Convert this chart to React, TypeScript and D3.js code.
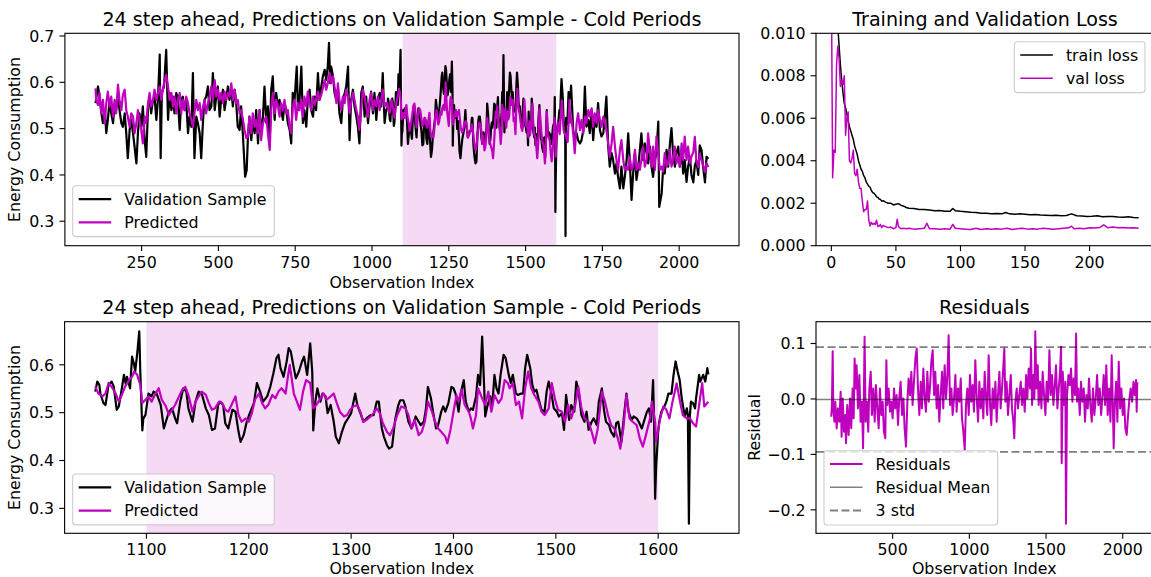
import React from "react";
import * as d3 from "d3";

type Pt = [number, number];

// ---------- Validation sample (actual) : observation index, energy ----------
const actualHead: Pt[] = [
  [100,0.555],[108,0.591],[113,0.569],[119,0.533],[124,0.512],[130,0.540],[135,0.490],[140,0.519],[146,0.562],[151,0.533],
  [157,0.512],[162,0.551],[167,0.540],[173,0.573],[178,0.540],[184,0.512],[189,0.504],[195,0.533],[200,0.490],[205,0.436],
  [211,0.497],[216,0.519],[222,0.490],[227,0.461],[233,0.425],[238,0.490],[243,0.533],[249,0.504],[254,0.548],[260,0.475],
  [265,0.439],[271,0.548],[276,0.569],[281,0.533],[287,0.562],[292,0.569],[298,0.519],[303,0.562],[309,0.660],[312,0.436],
  [316,0.577],[323,0.591],[330,0.670],[336,0.519],[341,0.577],[347,0.540],[352,0.569],[357,0.533],[363,0.577],[368,0.562],
  [374,0.497],[379,0.562],[384,0.569],[390,0.540],[395,0.562],[401,0.490],[406,0.526],[412,0.504],[417,0.620],[422,0.436],
  [428,0.526],[433,0.512],[439,0.490],[444,0.436],[450,0.519],[455,0.562],[460,0.569],[466,0.591],[471,0.540],[477,0.548],
  [482,0.620],[488,0.540],[493,0.569],[498,0.591],[504,0.526],[509,0.562],[515,0.584],[520,0.540],[525,0.562],[531,0.591],
  [536,0.562],[542,0.584],[547,0.548],[553,0.584],[558,0.555],[563,0.504],[569,0.497],[574,0.548],[580,0.483],[587,0.396],
  [592,0.410],[596,0.480],[601,0.526],[607,0.475],[612,0.519],[618,0.490],[623,0.540],[629,0.468],[634,0.540],[639,0.490],
  [645,0.526],[650,0.591],[656,0.512],[661,0.548],[667,0.475],[672,0.584],[677,0.613],[683,0.519],[688,0.577],[694,0.548],
  [699,0.562],[704,0.540],[710,0.519],[715,0.555],[721,0.540],[726,0.512],[732,0.497],[737,0.468],[742,0.577],[748,0.562],
  [755,0.634],[759,0.540],[764,0.562],[770,0.634],[775,0.512],[780,0.540],[786,0.504],[791,0.562],[797,0.584],[802,0.540],
  [808,0.526],[813,0.569],[818,0.540],[824,0.620],[829,0.562],[835,0.591],[840,0.613],[846,0.627],[851,0.605],[856,0.634],
  [860,0.685],[864,0.598],[867,0.634],[873,0.613],[878,0.577],[884,0.562],[889,0.584],[894,0.533],[900,0.512],[905,0.562],
  [911,0.577],[916,0.591],[922,0.634],[927,0.475],[932,0.562],[938,0.584],[943,0.548],[949,0.526],[954,0.504],[959,0.468],
  [965,0.577],[970,0.591],[976,0.526],[981,0.569],[987,0.512],[992,0.548],[997,0.580],[1003,0.533],[1008,0.577],[1014,0.519],
  [1019,0.562],[1025,0.577],[1030,0.548],[1035,0.620],[1041,0.512],[1046,0.540],
];

const actualZoom: Pt[] = [
  [1050,0.544],[1052,0.565],[1054,0.558],[1055,0.540],[1058,0.520],[1060,0.516],[1063,0.558],[1066,0.565],[1068,0.555],[1071,0.506],
  [1073,0.513],[1076,0.551],[1078,0.579],[1080,0.558],[1081,0.575],[1084,0.551],[1086,0.617],[1088,0.600],[1089,0.586],[1091,0.624],
  [1093,0.670],[1094,0.586],[1096,0.463],[1097,0.488],[1099,0.495],[1102,0.540],[1105,0.534],[1107,0.544],[1110,0.540],[1114,0.516],
  [1117,0.467],[1119,0.481],[1122,0.502],[1125,0.509],[1128,0.488],[1130,0.478],[1133,0.523],[1136,0.551],[1139,0.544],[1141,0.509],
  [1145,0.481],[1148,0.523],[1151,0.544],[1154,0.540],[1158,0.509],[1161,0.495],[1164,0.464],[1167,0.467],[1170,0.516],[1172,0.523],
  [1175,0.516],[1177,0.478],[1180,0.467],[1184,0.506],[1187,0.502],[1190,0.460],[1192,0.439],[1195,0.453],[1198,0.481],[1201,0.499],
  [1205,0.520],[1208,0.562],[1211,0.544],[1214,0.523],[1218,0.534],[1221,0.554],[1224,0.582],[1227,0.614],[1229,0.621],[1231,0.593],
  [1234,0.575],[1237,0.607],[1239,0.635],[1241,0.628],[1244,0.593],[1246,0.572],[1249,0.586],[1252,0.607],[1254,0.617],[1257,0.579],
  [1258,0.600],[1260,0.645],[1262,0.586],[1263,0.463],[1265,0.523],[1267,0.551],[1270,0.523],[1272,0.540],[1275,0.534],[1277,0.499],
  [1280,0.516],[1283,0.481],[1285,0.450],[1288,0.436],[1291,0.460],[1294,0.478],[1297,0.488],[1300,0.499],[1304,0.540],[1306,0.516],
  [1309,0.499],[1312,0.481],[1315,0.488],[1319,0.495],[1322,0.495],[1325,0.523],[1327,0.523],[1330,0.467],[1332,0.450],[1335,0.432],
  [1337,0.425],[1340,0.429],[1343,0.485],[1346,0.515],[1348,0.526],[1351,0.526],[1353,0.513],[1356,0.481],[1359,0.467],[1361,0.478],
  [1363,0.492],[1366,0.481],[1368,0.474],[1371,0.481],[1373,0.506],[1375,0.554],[1378,0.530],[1380,0.502],[1383,0.467],[1385,0.474],
  [1388,0.502],[1390,0.513],[1392,0.502],[1395,0.520],[1398,0.554],[1400,0.551],[1402,0.540],[1405,0.502],[1407,0.540],[1410,0.568],
  [1412,0.523],[1415,0.502],[1417,0.509],[1419,0.506],[1422,0.534],[1424,0.579],[1426,0.558],[1428,0.659],[1430,0.551],[1431,0.492],
  [1433,0.513],[1436,0.534],[1438,0.516],[1440,0.579],[1442,0.551],[1444,0.540],[1446,0.579],[1449,0.621],[1451,0.614],[1454,0.579],
  [1456,0.562],[1458,0.579],[1461,0.540],[1463,0.537],[1466,0.540],[1468,0.540],[1470,0.593],[1472,0.621],[1475,0.593],[1477,0.558],
  [1479,0.544],[1481,0.548],[1483,0.530],[1486,0.506],[1489,0.502],[1491,0.544],[1493,0.565],[1496,0.537],[1498,0.509],[1501,0.502],
  [1503,0.492],[1506,0.499],[1508,0.464],[1510,0.537],[1513,0.485],[1515,0.516],[1518,0.502],[1520,0.565],[1522,0.548],[1525,0.495],
  [1528,0.481],[1530,0.502],[1532,0.464],[1535,0.481],[1537,0.488],[1540,0.474],[1542,0.523],[1545,0.551],[1547,0.506],[1549,0.481],
  [1552,0.474],[1554,0.460],[1557,0.450],[1559,0.478],[1561,0.481],[1564,0.439],[1567,0.502],[1569,0.540],[1571,0.502],[1574,0.485],
  [1576,0.492],[1579,0.488],[1581,0.481],[1584,0.467],[1586,0.481],[1589,0.502],[1591,0.509],[1593,0.481],[1595,0.568],[1596,0.481],
  [1597,0.320],[1598,0.387],[1600,0.460],[1601,0.481],[1603,0.502],[1606,0.513],[1608,0.523],[1610,0.540],[1613,0.540],[1615,0.579],
  [1617,0.607],[1619,0.586],[1621,0.568],[1623,0.530],[1626,0.492],[1628,0.509],[1629,0.495],[1630,0.268],[1631,0.495],[1632,0.523],
  [1634,0.520],[1636,0.509],[1637,0.530],[1640,0.579],[1641,0.565],[1644,0.579],[1646,0.565],[1648,0.593],[1649,0.580],
];

const actualTail: Pt[] = [
  [1655,0.497],[1660,0.475],[1666,0.490],[1671,0.475],[1677,0.468],[1682,0.475],[1688,0.497],[1693,0.591],[1698,0.504],[1704,0.519],
  [1709,0.490],[1715,0.540],[1720,0.475],[1725,0.519],[1731,0.504],[1736,0.555],[1742,0.497],[1747,0.483],[1753,0.490],[1758,0.526],
  [1763,0.569],[1769,0.461],[1774,0.418],[1780,0.447],[1785,0.432],[1791,0.403],[1796,0.425],[1801,0.396],[1807,0.371],[1812,0.418],
  [1818,0.371],[1823,0.396],[1829,0.432],[1834,0.490],[1839,0.432],[1845,0.346],[1850,0.403],[1856,0.447],[1861,0.389],[1867,0.418],
  [1872,0.454],[1877,0.490],[1883,0.432],[1888,0.468],[1894,0.447],[1899,0.425],[1905,0.461],[1910,0.418],[1915,0.396],[1921,0.432],
  [1926,0.447],[1932,0.515],[1935,0.331],[1943,0.360],[1948,0.418],[1953,0.403],[1959,0.454],[1964,0.418],[1970,0.468],[1975,0.501],
  [1980,0.447],[1986,0.418],[1991,0.447],[1997,0.461],[2002,0.418],[2008,0.454],[2013,0.403],[2018,0.432],[2024,0.385],[2029,0.418],
  [2035,0.439],[2040,0.400],[2046,0.384],[2051,0.420],[2056,0.431],[2062,0.400],[2067,0.464],[2073,0.453],[2078,0.417],[2084,0.384],
  [2089,0.439],[2095,0.435],
];

// ---------- Predicted ----------
const predictedHead: Pt[] = [
  [100,0.587],[102,0.562],[108,0.551],[113,0.577],[119,0.533],[124,0.562],[130,0.512],[135,0.555],[140,0.580],[146,0.548],
  [151,0.569],[157,0.526],[162,0.562],[167,0.533],[173,0.595],[178,0.562],[184,0.540],[189,0.573],[195,0.584],[200,0.540],
  [205,0.526],[211,0.504],[216,0.533],[222,0.526],[227,0.490],[233,0.512],[238,0.540],[243,0.519],[249,0.497],[254,0.468],
  [260,0.526],[265,0.512],[271,0.555],[276,0.577],[281,0.548],[287,0.562],[292,0.584],[298,0.562],[303,0.577],[309,0.591],
  [314,0.562],[319,0.584],[325,0.605],[330,0.616],[336,0.591],[341,0.562],[347,0.577],[352,0.548],[357,0.569],[363,0.533],
  [368,0.562],[374,0.577],[379,0.533],[384,0.562],[390,0.540],[395,0.569],[401,0.555],[406,0.533],[412,0.519],[417,0.504],
  [422,0.533],[428,0.562],[433,0.540],[439,0.555],[444,0.519],[450,0.548],[455,0.562],[460,0.533],[466,0.555],[471,0.569],
  [477,0.591],[482,0.562],[488,0.605],[493,0.569],[498,0.584],[504,0.562],[509,0.577],[515,0.555],[520,0.580],[525,0.562],
  [531,0.577],[536,0.569],[542,0.598],[547,0.562],[553,0.584],[558,0.555],[563,0.562],[569,0.533],[574,0.540],[580,0.519],
  [585,0.497],[591,0.480],[596,0.483],[601,0.526],[607,0.490],[612,0.533],[618,0.504],[623,0.519],[629,0.490],[634,0.540],
  [639,0.475],[645,0.512],[650,0.519],[656,0.526],[661,0.490],[667,0.454],[672,0.540],[677,0.577],[683,0.533],[688,0.562],
  [694,0.548],[699,0.526],[704,0.555],[710,0.540],[715,0.562],[721,0.533],[726,0.540],[732,0.504],[737,0.490],[742,0.548],
  [748,0.562],[753,0.519],[759,0.555],[764,0.540],[770,0.562],[775,0.526],[780,0.569],[786,0.548],[791,0.580],[797,0.555],
  [802,0.540],[808,0.569],[813,0.551],[818,0.562],[824,0.580],[829,0.562],[835,0.573],[840,0.587],[846,0.605],[851,0.584],
  [856,0.598],[862,0.620],[867,0.598],[873,0.613],[878,0.591],[884,0.555],[889,0.598],[894,0.562],[900,0.540],[905,0.569],
  [911,0.555],[916,0.584],[922,0.569],[927,0.533],[932,0.555],[938,0.577],[943,0.562],[949,0.540],[954,0.526],[959,0.497],
  [965,0.540],[970,0.584],[976,0.569],[981,0.548],[987,0.526],[992,0.562],[997,0.577],[1003,0.540],[1008,0.562],[1014,0.548],
  [1019,0.569],[1025,0.540],[1030,0.562],[1035,0.584],[1041,0.548],[1046,0.555],
];

const predictedZoom: Pt[] = [
  [1050,0.555],[1053,0.540],[1057,0.534],[1060,0.540],[1063,0.562],[1066,0.554],[1070,0.540],[1073,0.523],[1076,0.537],[1079,0.554],
  [1083,0.568],[1086,0.575],[1088,0.586],[1091,0.579],[1094,0.558],[1096,0.520],[1099,0.527],[1102,0.534],[1105,0.523],[1109,0.540],
  [1112,0.551],[1115,0.527],[1119,0.513],[1122,0.495],[1125,0.506],[1128,0.516],[1131,0.530],[1135,0.548],[1138,0.554],[1141,0.537],
  [1145,0.502],[1148,0.523],[1151,0.534],[1154,0.544],[1158,0.537],[1161,0.520],[1164,0.506],[1167,0.509],[1171,0.523],[1174,0.520],
  [1177,0.506],[1180,0.502],[1184,0.520],[1187,0.534],[1190,0.495],[1193,0.481],[1197,0.488],[1200,0.481],[1203,0.499],[1206,0.527],
  [1210,0.540],[1213,0.520],[1216,0.509],[1219,0.516],[1223,0.537],[1226,0.530],[1229,0.544],[1232,0.551],[1236,0.540],[1238,0.572],
  [1240,0.600],[1244,0.540],[1247,0.523],[1250,0.506],[1253,0.544],[1256,0.568],[1260,0.562],[1263,0.509],[1266,0.516],[1270,0.530],
  [1273,0.540],[1276,0.527],[1280,0.534],[1283,0.540],[1286,0.520],[1289,0.502],[1293,0.492],[1296,0.495],[1299,0.506],[1302,0.513],
  [1306,0.516],[1309,0.502],[1312,0.481],[1315,0.485],[1319,0.492],[1322,0.499],[1325,0.509],[1328,0.499],[1331,0.478],[1335,0.460],
  [1338,0.453],[1341,0.467],[1345,0.495],[1349,0.513],[1353,0.509],[1356,0.495],[1359,0.467],[1362,0.485],[1366,0.453],[1369,0.460],
  [1372,0.481],[1375,0.523],[1379,0.502],[1382,0.481],[1385,0.467],[1388,0.460],[1392,0.450],[1394,0.436],[1397,0.464],[1400,0.502],
  [1403,0.537],[1405,0.523],[1408,0.548],[1411,0.516],[1415,0.502],[1417,0.488],[1419,0.467],[1422,0.495],[1424,0.551],[1428,0.530],
  [1431,0.516],[1434,0.544],[1437,0.502],[1440,0.537],[1444,0.520],[1447,0.530],[1450,0.568],[1453,0.562],[1455,0.551],[1458,0.562],
  [1461,0.516],[1464,0.523],[1467,0.488],[1470,0.551],[1473,0.586],[1476,0.551],[1479,0.537],[1483,0.523],[1486,0.502],[1489,0.495],
  [1493,0.509],[1496,0.562],[1499,0.530],[1502,0.506],[1506,0.502],[1509,0.481],[1512,0.516],[1515,0.488],[1519,0.516],[1522,0.554],
  [1525,0.509],[1528,0.488],[1532,0.481],[1535,0.460],[1538,0.436],[1541,0.467],[1545,0.544],[1548,0.523],[1551,0.495],[1554,0.474],
  [1558,0.464],[1561,0.443],[1563,0.425],[1566,0.467],[1569,0.537],[1572,0.488],[1575,0.481],[1579,0.474],[1582,0.446],[1585,0.429],
  [1588,0.453],[1592,0.488],[1594,0.523],[1597,0.481],[1598,0.439],[1602,0.488],[1605,0.513],[1608,0.506],[1611,0.488],[1614,0.523],
  [1618,0.561],[1621,0.527],[1624,0.495],[1628,0.488],[1631,0.488],[1634,0.478],[1637,0.471],[1640,0.516],[1643,0.562],[1645,0.513],
  [1649,0.523],
];

const predictedTail: Pt[] = [
  [1655,0.490],[1660,0.447],[1666,0.512],[1671,0.533],[1677,0.497],[1682,0.519],[1688,0.490],[1693,0.526],[1698,0.512],[1704,0.540],
  [1709,0.526],[1715,0.544],[1720,0.504],[1725,0.533],[1731,0.512],[1736,0.540],[1742,0.519],[1747,0.504],[1753,0.526],[1758,0.512],
  [1763,0.497],[1769,0.468],[1774,0.439],[1780,0.468],[1785,0.504],[1791,0.461],[1796,0.432],[1801,0.411],[1807,0.454],[1812,0.475],
  [1818,0.432],[1823,0.411],[1829,0.418],[1834,0.411],[1839,0.439],[1845,0.411],[1850,0.418],[1856,0.454],[1861,0.411],[1867,0.425],
  [1872,0.411],[1877,0.432],[1883,0.461],[1888,0.418],[1894,0.432],[1899,0.490],[1905,0.447],[1910,0.418],[1915,0.461],[1921,0.411],
  [1926,0.483],[1932,0.447],[1937,0.411],[1943,0.418],[1948,0.407],[1953,0.447],[1959,0.418],[1964,0.425],[1970,0.454],[1975,0.418],
  [1980,0.432],[1986,0.461],[1991,0.425],[1997,0.439],[2002,0.418],[2008,0.468],[2013,0.432],[2018,0.483],[2024,0.432],[2029,0.461],
  [2035,0.425],[2040,0.440],[2046,0.449],[2051,0.482],[2056,0.430],[2062,0.417],[2067,0.445],[2073,0.431],[2078,0.420],[2084,0.406],
  [2089,0.425],[2095,0.417],
];

// ---------- Residuals ----------
const residuals: Pt[] = [
  [100,-0.032],[104,-0.011],[109,0.086],[113,-0.017],[120,-0.041],[126,-0.005],[135,-0.053],[143,-0.017],[152,-0.041],[161,0.013],
  [167,-0.068],[174,0.001],[183,-0.059],[191,-0.029],[196,-0.080],[204,-0.011],[213,-0.065],[222,0.001],[230,-0.053],[239,0.019],
  [246,-0.035],[252,0.073],[259,0.019],[265,0.061],[274,-0.017],[283,0.043],[291,-0.041],[300,-0.005],[307,-0.089],[311,-0.023],
  [317,0.112],[324,-0.041],[333,-0.005],[341,-0.059],[348,0.019],[357,0.049],[365,-0.029],[374,0.019],[383,-0.041],[391,0.025],
  [400,-0.017],[409,-0.053],[417,0.019],[426,-0.029],[435,-0.005],[443,-0.059],[452,-0.071],[459,0.070],[465,-0.011],[474,0.019],
  [483,-0.023],[491,-0.005],[500,-0.035],[509,0.019],[517,-0.017],[526,0.007],[535,-0.047],[543,0.001],[552,0.031],[561,-0.029],
  [570,0.001],[578,-0.053],[587,-0.086],[596,-0.005],[604,0.037],[613,0.007],[622,0.049],[630,-0.011],[639,0.031],[648,0.073],
  [657,0.091],[665,0.019],[674,-0.029],[683,0.031],[691,-0.017],[700,0.055],[709,0.001],[717,-0.023],[726,0.049],[735,-0.005],
  [743,0.019],[752,0.067],[761,0.088],[770,0.007],[778,0.049],[787,-0.017],[796,0.025],[804,-0.041],[813,0.007],[822,0.049],
  [830,-0.017],[839,0.061],[848,0.001],[857,0.043],[865,0.115],[874,-0.011],[883,0.019],[891,-0.029],[900,0.001],[909,0.043],
  [917,-0.023],[926,0.019],[935,-0.005],[944,0.037],[952,-0.035],[961,-0.059],[970,-0.092],[978,-0.011],[987,0.019],[996,-0.029],
  [1004,0.043],[1013,-0.005],[1022,0.025],[1030,-0.023],[1039,0.070],[1048,0.001],[1057,-0.041],[1065,0.031],[1074,-0.017],[1083,0.019],
  [1091,-0.035],[1100,0.049],[1109,0.001],[1117,-0.029],[1126,0.079],[1135,-0.011],[1143,-0.047],[1152,0.019],[1161,-0.017],[1170,0.031],
  [1178,-0.041],[1187,0.007],[1196,0.049],[1204,-0.017],[1213,0.019],[1222,0.061],[1228,0.091],[1235,-0.005],[1243,0.031],[1252,-0.029],
  [1261,0.007],[1270,0.043],[1278,-0.017],[1287,-0.041],[1293,-0.071],[1300,-0.005],[1309,0.019],[1317,-0.017],[1326,0.007],[1335,0.031],
  [1343,-0.011],[1352,0.019],[1361,-0.023],[1370,0.043],[1378,0.001],[1387,0.055],[1396,0.019],[1402,0.091],[1409,-0.011],[1417,0.043],
  [1424,0.001],[1430,0.122],[1437,0.019],[1446,0.061],[1452,-0.011],[1461,0.031],[1470,-0.017],[1478,0.049],[1487,0.007],[1496,-0.029],
  [1504,0.031],[1513,-0.005],[1522,0.088],[1530,0.007],[1539,0.043],[1548,-0.011],[1557,0.025],[1565,0.061],[1574,-0.017],[1583,0.019],
  [1591,0.049],[1598,0.094],[1602,-0.116],[1609,0.049],[1617,-0.011],[1626,0.031],[1630,-0.225],[1637,0.007],[1646,0.043],[1654,0.025],
  [1663,0.055],[1672,-0.005],[1680,0.037],[1689,0.007],[1696,0.118],[1702,-0.005],[1711,0.019],[1720,-0.029],[1728,0.031],[1737,-0.005],
  [1746,0.019],[1754,-0.041],[1763,0.007],[1772,-0.017],[1780,0.037],[1789,-0.011],[1798,-0.041],[1806,0.019],[1815,-0.029],[1824,0.001],
  [1833,0.043],[1841,-0.011],[1850,0.019],[1859,-0.029],[1867,0.001],[1876,0.043],[1885,-0.011],[1893,0.061],[1902,-0.029],[1911,0.019],
  [1920,-0.041],[1928,0.079],[1935,-0.005],[1941,-0.089],[1948,-0.011],[1957,0.031],[1965,-0.041],[1974,0.067],[1983,-0.017],[1991,0.019],
  [2000,-0.029],[2009,0.001],[2017,-0.053],[2026,-0.065],[2035,-0.029],[2044,0.001],[2052,0.019],[2061,-0.005],[2070,0.031],[2078,0.007],
  [2087,0.034],[2091,-0.023],[2095,0.030],
];
const residualMean = -0.0009;
const residualStd = 0.0315;

// ---------- Loss history : epoch, loss ----------
const trainLoss: Pt[] = [
  [0,0.0250],[1,0.0160],[2,0.0135],[3,0.0120],[4,0.0110],[5,0.0103],[6,0.0094],[7,0.0085],[8,0.0078],[9,0.0072],
  [10,0.0067],[11,0.0065],[12,0.0062],[13,0.0059],[14,0.0056],[15,0.0054],[16,0.0052],[17,0.0050],[18,0.0047],[19,0.0045],
  [20,0.0043],[21,0.0040],[22,0.0038],[23,0.0036],[24,0.0035],[25,0.0033],[26,0.0032],[27,0.0030],[28,0.0029],[29,0.0028],
  [30,0.00275],[31,0.0026],[32,0.0025],[33,0.00247],[34,0.0024],[35,0.0023],[36,0.00228],[37,0.0022],[38,0.00218],[39,0.0021],
  [40,0.00212],[42,0.00205],[44,0.002],[46,0.002],[48,0.00192],[50,0.00195],[52,0.00198],[54,0.0019],[56,0.00186],[58,0.0018],
  [60,0.00176],[64,0.00175],[68,0.0017],[72,0.0017],[76,0.00168],[80,0.00165],[84,0.00166],[88,0.00162],[92,0.00162],[94,0.00175],
  [96,0.00165],[100,0.00162],[104,0.0016],[108,0.00157],[112,0.00156],[116,0.00153],[120,0.00153],[124,0.00151],[128,0.00152],[132,0.0015],
  [135,0.00156],[138,0.0015],[142,0.00148],[146,0.0015],[150,0.00148],[154,0.00146],[158,0.00147],[162,0.00144],[166,0.00143],[170,0.00142],
  [174,0.00143],[178,0.00141],[182,0.00142],[186,0.0015],[190,0.00141],[194,0.0014],[198,0.00138],[202,0.00139],[206,0.00141],[210,0.00136],
  [214,0.00137],[218,0.00138],[222,0.00135],[226,0.00134],[230,0.00136],[234,0.00133],[238,0.00132],
];

const valLoss: Pt[] = [
  [0,0.0125],[1,0.0032],[2,0.0045],[3,0.0044],[4,0.0085],[5,0.0094],[6,0.0088],[7,0.0075],[8,0.0078],[9,0.0076],
  [10,0.0080],[11,0.0052],[12,0.0060],[13,0.0063],[14,0.0040],[15,0.0039],[16,0.0041],[17,0.0045],[18,0.0034],[19,0.0033],
  [20,0.0036],[21,0.0030],[22,0.0027],[23,0.0027],[24,0.0021],[25,0.0016],[26,0.0017],[27,0.0017],[28,0.0021],[29,0.0012],
  [30,0.00093],[31,0.0011],[32,0.0010],[33,0.00105],[34,0.0010],[35,0.0012],[36,0.0009],[37,0.00092],[38,0.001],[39,0.00085],
  [40,0.00095],[42,0.0009],[44,0.00085],[46,0.00088],[48,0.0008],[50,0.00085],[51,0.00125],[52,0.0009],[54,0.0008],[56,0.00082],
  [58,0.0008],[60,0.00082],[64,0.00078],[68,0.0008],[72,0.00082],[74,0.00105],[76,0.0008],[80,0.0008],[84,0.00078],[88,0.0008],
  [92,0.00078],[94,0.001],[96,0.00082],[100,0.0008],[104,0.00078],[108,0.00076],[112,0.00082],[116,0.00076],[120,0.0008],[124,0.00077],
  [128,0.0008],[132,0.00078],[136,0.00082],[140,0.00076],[144,0.0008],[148,0.00082],[152,0.00078],[156,0.0008],[160,0.00078],[164,0.00082],
  [168,0.0008],[172,0.00078],[176,0.0008],[180,0.00082],[184,0.00084],[186,0.00092],[188,0.0008],[192,0.00082],[196,0.0008],[200,0.00085],
  [204,0.00083],[208,0.00086],[211,0.00098],[214,0.00085],[218,0.00088],[222,0.00084],[226,0.00086],[230,0.00083],[234,0.00085],[238,0.00082],
];

const coldPeriod: [number, number] = [1100, 1600];

const tlXTicks = [250, 500, 750, 1000, 1250, 1500, 1750, 2000];
const tlYTicks = [0.3, 0.4, 0.5, 0.6, 0.7];
const blXTicks = [1100, 1200, 1300, 1400, 1500, 1600];
const blYTicks = [0.3, 0.4, 0.5, 0.6];
const trXTicks = [0, 50, 100, 150, 200];
const trYTicks = [0, 0.002, 0.004, 0.006, 0.008, 0.01];
const brXTicks = [500, 1000, 1500, 2000];
const brYTicks = [-0.2, -0.1, 0, 0.1];

const titleMain = "24 step ahead, Predictions on Validation Sample - Cold Periods";

// ---------- styling / layout ----------
const FONT = "'DejaVu Sans', sans-serif";
const MAG = "#bf00bf";
const FS = 15.8;
const TFS = 19.1;

interface Box { l: number; r: number; t: number; b: number; }
const TL: Box = { l: 64.9, r: 739, t: 33.3, b: 245.7 };
const TR: Box = { l: 816, r: 1154, t: 33.3, b: 245.7 };
const BL: Box = { l: 64.6, r: 739, t: 321.7, b: 533.3 };
const BR: Box = { l: 816, r: 1152.6, t: 321.7, b: 533.3 };

function padded(vals: number[], f = 0.05): [number, number] {
  const [a, b] = d3.extent(vals) as [number, number];
  const r = b - a;
  return [a - r * f, b + r * f];
}

function Frame(props: {
  box: Box; x: d3.ScaleLinear<number, number>; y: d3.ScaleLinear<number, number>;
  xTicks: number[]; yTicks: number[]; xFmt: (v: number) => string; yFmt: (v: number) => string;
}) {
  const { box, x, y, xTicks, yTicks, xFmt, yFmt } = props;
  return (
    <g>
      <rect x={box.l} y={box.t} width={box.r - box.l} height={box.b - box.t} fill="none" stroke="#000" strokeWidth={1.1} />
      {xTicks.map((v) => (
        <g key={"x" + v}>
          <line x1={x(v)} x2={x(v)} y1={box.b} y2={box.b + 5.4} stroke="#000" strokeWidth={1.1} />
          <text x={x(v)} y={box.b + 21.8} textAnchor="middle" fontSize={FS}>{xFmt(v)}</text>
        </g>
      ))}
      {yTicks.map((v) => (
        <g key={"y" + v}>
          <line x1={box.l - 5.4} x2={box.l} y1={y(v)} y2={y(v)} stroke="#000" strokeWidth={1.1} />
          <text x={box.l - 10.5} y={y(v) + 5.7} textAnchor="end" fontSize={FS}>{yFmt(v)}</text>
        </g>
      ))}
    </g>
  );
}

interface LegendRow { label: string; color: string; width: number; dash?: string; opacity?: number; }
function Legend({ x, y, w, rows }: { x: number; y: number; w: number; rows: LegendRow[] }) {
  const h = 13 + (rows.length - 1) * 23.4 + 14.5;
  return (
    <g>
      <rect x={x} y={y} width={w} height={h} rx={3} ry={3} fill="#fff" fillOpacity={0.8} stroke="#cccccc" strokeWidth={1.1} />
      {rows.map((r, i) => {
        const cy = y + 13.4 + i * 23.2;
        return (
          <g key={r.label}>
            <line x1={x + 6} x2={x + 38.5} y1={cy} y2={cy} stroke={r.color} strokeWidth={r.width}
              strokeDasharray={r.dash} strokeOpacity={r.opacity ?? 1} />
            <text x={x + 51.6} y={cy + 5.7} fontSize={FS}>{r.label}</text>
          </g>
        );
      })}
    </g>
  );
}

export default function App() {
  const topActual = [...actualHead, ...actualZoom, ...actualTail];
  const topPred = [...predictedHead, ...predictedZoom, ...predictedTail];

  // top-left
  const tlX = d3.scaleLinear().domain(padded([...topActual, ...topPred].map((d) => d[0]))).range([TL.l, TL.r]);
  const tlY = d3.scaleLinear().domain(padded([...topActual, ...topPred].map((d) => d[1]))).range([TL.b, TL.t]);
  const tlLine = d3.line<Pt>().x((d) => tlX(d[0])).y((d) => tlY(d[1]));

  // bottom-left
  const blX = d3.scaleLinear().domain(padded([...actualZoom, ...predictedZoom].map((d) => d[0]))).range([BL.l, BL.r]);
  const blY = d3.scaleLinear().domain(padded([...actualZoom, ...predictedZoom].map((d) => d[1]))).range([BL.b, BL.t]);
  const blLine = d3.line<Pt>().x((d) => blX(d[0])).y((d) => blY(d[1]));

  // top-right
  const trX = d3.scaleLinear().domain(padded(trainLoss.map((d) => d[0]))).range([TR.l, TR.r]);
  const trY = d3.scaleLinear().domain([0, 0.01]).range([TR.b, TR.t]);
  const trLine = d3.line<Pt>().x((d) => trX(d[0])).y((d) => trY(d[1]));

  // bottom-right
  const brX = d3.scaleLinear().domain(padded(residuals.map((d) => d[0]))).range([BR.l, BR.r]);
  const brY = d3.scaleLinear().domain(padded(residuals.map((d) => d[1]))).range([BR.b, BR.t]);
  const brLine = d3.line<Pt>().x((d) => brX(d[0])).y((d) => brY(d[1]));

  const intFmt = (v: number) => String(v);
  const f1 = d3.format(".1f");
  const f3 = d3.format(".3f");
  const resFmt = (v: number) => (v === 0 ? "0.0" : f1(v));

  const clip = (id: string, b: Box) => (
    <clipPath id={id}><rect x={b.l} y={b.t} width={b.r - b.l} height={b.b - b.t} /></clipPath>
  );

  return (
    <svg width={1151} height={577} style={{ position: "absolute", left: 0, top: 0, background: "#fff" }}
      fontFamily={FONT} fill="#000">
      <defs>
        {clip("c-tl", TL)}{clip("c-tr", TR)}{clip("c-bl", BL)}{clip("c-br", BR)}
      </defs>

      {/* ---------- top-left ---------- */}
      <g clipPath="url(#c-tl)">
        <rect x={tlX(coldPeriod[0])} y={TL.t} width={tlX(coldPeriod[1]) - tlX(coldPeriod[0])} height={TL.b - TL.t}
          fill={MAG} fillOpacity={0.15} />
        <path d={tlLine(topActual) ?? ""} fill="none" stroke="#000" strokeWidth={2.2} strokeLinejoin="round" />
        <path d={tlLine(topPred) ?? ""} fill="none" stroke={MAG} strokeWidth={2.2} strokeLinejoin="round" />
      </g>
      <Frame box={TL} x={tlX} y={tlY} xTicks={tlXTicks} yTicks={tlYTicks} xFmt={intFmt} yFmt={f1} />
      <text x={(TL.l + TL.r) / 2} y={26} textAnchor="middle" fontSize={TFS}>{titleMain}</text>
      <text x={(TL.l + TL.r) / 2} y={288} textAnchor="middle" fontSize={FS}>Observation Index</text>
      <text transform={`translate(20,${(TL.t + TL.b) / 2}) rotate(-90)`} textAnchor="middle" fontSize={FS}>Energy Consumption</text>
      <Legend x={72.7} y={185.7} w={201.6} rows={[
        { label: "Validation Sample", color: "#000", width: 2.2 },
        { label: "Predicted", color: MAG, width: 2.2 },
      ]} />

      {/* ---------- top-right ---------- */}
      <g clipPath="url(#c-tr)">
        <path d={trLine(trainLoss) ?? ""} fill="none" stroke="#000" strokeWidth={1.5} strokeLinejoin="round" />
        <path d={trLine(valLoss) ?? ""} fill="none" stroke={MAG} strokeWidth={1.5} strokeLinejoin="round" />
      </g>
      <Frame box={TR} x={trX} y={trY} xTicks={trXTicks} yTicks={trYTicks} xFmt={intFmt} yFmt={f3} />
      <text x={(TR.l + TR.r) / 2} y={26} textAnchor="middle" fontSize={TFS}>Training and Validation Loss</text>
      <Legend x={1014.3} y={41.7} w={130.7} rows={[
        { label: "train loss", color: "#000", width: 1.5 },
        { label: "val loss", color: MAG, width: 1.5 },
      ]} />

      {/* ---------- bottom-left ---------- */}
      <g clipPath="url(#c-bl)">
        <rect x={blX(coldPeriod[0])} y={BL.t} width={blX(coldPeriod[1]) - blX(coldPeriod[0])} height={BL.b - BL.t}
          fill={MAG} fillOpacity={0.15} />
        <path d={blLine(actualZoom) ?? ""} fill="none" stroke="#000" strokeWidth={2.2} strokeLinejoin="round" />
        <path d={blLine(predictedZoom) ?? ""} fill="none" stroke={MAG} strokeWidth={2.2} strokeLinejoin="round" />
      </g>
      <Frame box={BL} x={blX} y={blY} xTicks={blXTicks} yTicks={blYTicks} xFmt={intFmt} yFmt={f1} />
      <text x={(BL.l + BL.r) / 2} y={314} textAnchor="middle" fontSize={TFS}>{titleMain}</text>
      <text x={(BL.l + BL.r) / 2} y={573.5} textAnchor="middle" fontSize={FS}>Observation Index</text>
      <text transform={`translate(20,${(BL.t + BL.b) / 2}) rotate(-90)`} textAnchor="middle" fontSize={FS}>Energy Consumption</text>
      <Legend x={72.7} y={474} w={201.6} rows={[
        { label: "Validation Sample", color: "#000", width: 2.2 },
        { label: "Predicted", color: MAG, width: 2.2 },
      ]} />

      {/* ---------- bottom-right ---------- */}
      <g clipPath="url(#c-br)">
        <path d={brLine(residuals) ?? ""} fill="none" stroke={MAG} strokeWidth={2} strokeLinejoin="round" />
        <line x1={BR.l} x2={BR.r} y1={brY(residualMean)} y2={brY(residualMean)} stroke="#000" strokeOpacity={0.5} strokeWidth={1.6} />
        <line x1={BR.l} x2={BR.r} y1={brY(residualMean + 3 * residualStd)} y2={brY(residualMean + 3 * residualStd)}
          stroke="#000" strokeOpacity={0.5} strokeWidth={1.8} strokeDasharray="8,3.5" />
        <line x1={BR.l} x2={BR.r} y1={brY(residualMean - 3 * residualStd)} y2={brY(residualMean - 3 * residualStd)}
          stroke="#000" strokeOpacity={0.5} strokeWidth={1.8} strokeDasharray="8,3.5" />
      </g>
      <Frame box={BR} x={brX} y={brY} xTicks={brXTicks} yTicks={brYTicks} xFmt={intFmt} yFmt={resFmt} />
      <text x={(BR.l + BR.r) / 2} y={314} textAnchor="middle" fontSize={TFS}>Residuals</text>
      <text x={(BR.l + BR.r) / 2} y={573.5} textAnchor="middle" fontSize={FS}>Observation Index</text>
      <text transform={`translate(759.5,${(BR.t + BR.b) / 2}) rotate(-90)`} textAnchor="middle" fontSize={FS}>Residual</text>
      <Legend x={824} y={450.7} w={173.7} rows={[
        { label: "Residuals", color: MAG, width: 2 },
        { label: "Residual Mean", color: "#000", width: 1.6, opacity: 0.5 },
        { label: "3 std", color: "#000", width: 1.8, dash: "8,3.5", opacity: 0.5 },
      ]} />
    </svg>
  );
}
